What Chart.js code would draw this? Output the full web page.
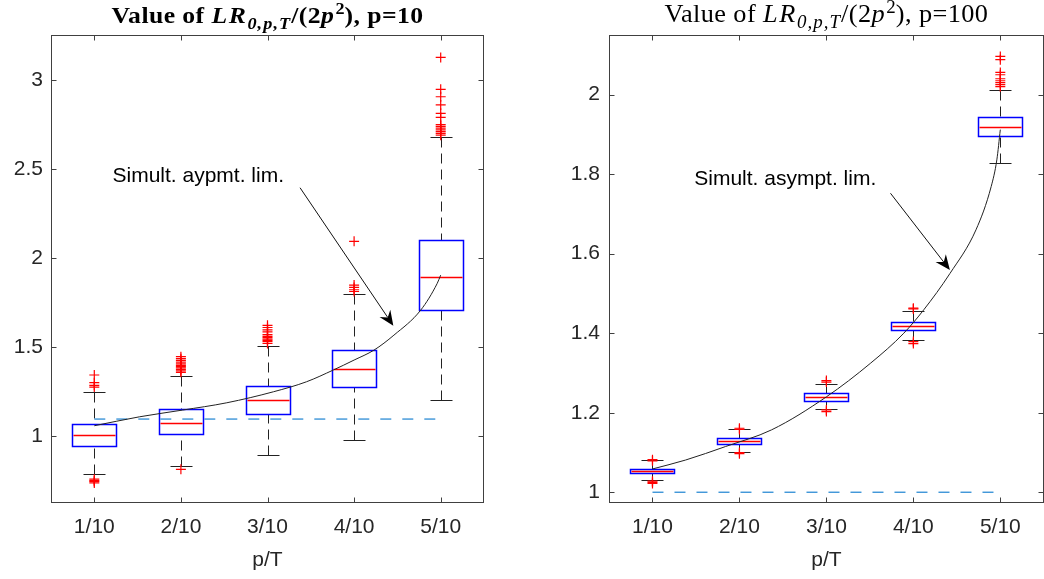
<!DOCTYPE html>
<html>
<head>
<meta charset="utf-8">
<script src="https://cdn.jsdelivr.net/npm/chart.js@4/dist/chart.umd.min.js"></script>
<style>
  html, body { margin: 0; padding: 0; background: #fff; overflow: hidden; width: 1044px; height: 579px; }
  #wrapL { position: absolute; left: 0; top: 0; width: 520px; height: 579px; }
  #wrapR { position: absolute; left: 520px; top: 0; width: 530px; height: 579px; }
</style>
</head>
<body>
<div id="wrapL"><canvas id="cL" width="520" height="579"></canvas></div>
<div id="wrapR"><canvas id="cR" width="530" height="579"></canvas></div>
<script>
const categories = ['1/10', '2/10', '3/10', '4/10', '5/10'];

// ---- p = 10 ----
const p10Median      = [1.004, 1.075, 1.200, 1.378, 1.895];
const p10Q1          = [0.946, 1.010, 1.125, 1.275, 1.706];
const p10Q3          = [1.067, 1.150, 1.281, 1.481, 2.101];
const p10WhiskerLow  = [0.787, 0.833, 0.895, 0.976, 1.200];
const p10WhiskerHigh = [1.245, 1.339, 1.504, 1.798, 2.681];
const p10Outliers = [
  [1.343, 1.300, 1.285, 1.275, 0.758, 0.750, 0.745, 0.737],
  [1.446, 1.435, 1.425, 1.415, 1.405, 1.397, 1.390, 1.383, 1.375, 1.366, 1.358, 0.813],
  [1.622, 1.610, 1.597, 1.585, 1.570, 1.560, 1.553, 1.545, 1.538, 1.530, 1.520],
  [2.094, 1.848, 1.835, 1.822, 1.812],
  [3.127, 2.948, 2.906, 2.860, 2.813, 2.790, 2.750, 2.740, 2.730, 2.720, 2.710, 2.700, 2.690]
];
const p10LimitX = [1, 1.52, 2.02, 2.53, 3.07, 3.45, 3.76, 4.0, 4.23, 4.46, 4.77, 4.96, 5.0];
const p10LimitY = [1.058, 1.108, 1.146, 1.187, 1.249, 1.305, 1.371, 1.427, 1.483, 1.567, 1.708, 1.858, 1.904];
const p10Reference = 1.0955;
const p10YTicks = [1, 1.5, 2, 2.5, 3];
const p10YRange = [0.624, 3.253];

// ---- p = 100 ----
const p100Median      = [1.0536, 1.130, 1.239, 1.418, 1.918];
const p100Q1          = [1.048, 1.122, 1.2305, 1.4075, 1.897];
const p100Q3          = [1.0594, 1.136, 1.249, 1.429, 1.943];
const p100WhiskerLow  = [1.030, 1.102, 1.210, 1.3825, 1.828];
const p100WhiskerHigh = [1.0805, 1.159, 1.272, 1.457, 2.012];
const p100Outliers = [
  [1.082, 1.079, 1.028, 1.025, 1.022],
  [1.161, 1.158, 1.100, 1.097],
  [1.281, 1.277, 1.207, 1.203],
  [1.463, 1.461, 1.379, 1.374],
  [2.096, 2.088, 2.056, 2.050, 2.040, 2.035, 2.030, 2.025, 2.020]
];
const p100LimitX = [1, 1.38, 1.84, 2.37, 3.0, 3.51, 3.89, 4.12, 4.42, 4.72, 4.895, 4.96, 5.0];
const p100LimitY = [1.0586, 1.081, 1.115, 1.157, 1.240, 1.325, 1.400, 1.459, 1.550, 1.660, 1.769, 1.836, 1.912];
const p100Reference = 1.0;
const p100YTicks = [1, 1.2, 1.4, 1.6, 1.8, 2];
const p100YRange = [0.973, 2.150];

const xTicks = categories.map((_, i) => i + 1);
const AXIS_COLOR = '#404040';
const TEXT_COLOR = '#262626';
const SANS = '"Liberation Sans", Arial, sans-serif';
const SERIF = '"Liberation Serif", "Times New Roman", serif';

// Box-and-whisker glyphs drawn through the chart scales
function boxPlugin(stats) {
  return {
    id: 'boxPlot',
    beforeDatasetsDraw(chart) {
      const ctx = chart.ctx, xs = chart.scales.x, ys = chart.scales.y;
      const py = v => Math.round(ys.getPixelForValue(v)) + 0.5;
      const geo = stats.median.map((m, i) => {
        const xc = xs.getPixelForValue(i + 1);
        return {
          X: Math.round(xc) + 0.5,
          hw: Math.round(xs.getPixelForValue(i + 1 + stats.boxWidth / 2) - xc),
          cw: Math.round(xs.getPixelForValue(i + 1 + stats.capWidth / 2) - xc)
        };
      });
      ctx.save();
      ctx.lineWidth = 1;

      // dashed whiskers
      ctx.strokeStyle = '#222222';
      ctx.setLineDash([10, 6]);
      ctx.beginPath();
      geo.forEach((g, i) => {
        ctx.moveTo(g.X, py(stats.hi[i])); ctx.lineTo(g.X, py(stats.q3[i]));
        ctx.moveTo(g.X, py(stats.lo[i])); ctx.lineTo(g.X, py(stats.q1[i]));
      });
      ctx.stroke();
      ctx.setLineDash([]);

      // whisker caps
      ctx.beginPath();
      geo.forEach((g, i) => {
        ctx.moveTo(g.X - g.cw, py(stats.hi[i])); ctx.lineTo(g.X + g.cw, py(stats.hi[i]));
        ctx.moveTo(g.X - g.cw, py(stats.lo[i])); ctx.lineTo(g.X + g.cw, py(stats.lo[i]));
      });
      ctx.stroke();

      // boxes
      ctx.lineWidth = 1.5;
      ctx.strokeStyle = '#0000ff';
      ctx.beginPath();
      geo.forEach((g, i) => {
        const yt = py(stats.q3[i]), yb = py(stats.q1[i]);
        ctx.rect(g.X - g.hw, yt, 2 * g.hw, yb - yt);
      });
      ctx.stroke();

      // medians
      ctx.strokeStyle = '#ff0000';
      ctx.beginPath();
      geo.forEach((g, i) => {
        const y = py(stats.median[i]);
        ctx.moveTo(g.X - g.hw + 1, y); ctx.lineTo(g.X + g.hw - 1, y);
      });
      ctx.stroke();
      ctx.restore();
    }
  };
}

// Axes box with inward tick marks on all four sides
function framePlugin(yTicks) {
  return {
    id: 'frame',
    afterDraw(chart) {
      const ctx = chart.ctx, a = chart.chartArea, xs = chart.scales.x, ys = chart.scales.y;
      const L = Math.round(a.left) + 0.5, R = Math.round(a.right) - 0.5;
      const T = Math.round(a.top) + 0.5, B = Math.round(a.bottom) - 0.5;
      ctx.save();
      ctx.strokeStyle = AXIS_COLOR;
      ctx.lineWidth = 1;
      ctx.strokeRect(L, T, R - L, B - T);
      ctx.beginPath();
      yTicks.forEach(v => {
        const y = Math.round(ys.getPixelForValue(v)) + 0.5;
        ctx.moveTo(L, y); ctx.lineTo(L + 5, y);
        ctx.moveTo(R, y); ctx.lineTo(R - 5, y);
      });
      xTicks.forEach(v => {
        const x = Math.round(xs.getPixelForValue(v)) + 0.5;
        ctx.moveTo(x, B); ctx.lineTo(x, B - 5);
        ctx.moveTo(x, T); ctx.lineTo(x, T + 5);
      });
      ctx.stroke();
      ctx.restore();
    }
  };
}

// Title with math-style italics, subscript and superscript
function titlePlugin(t) {
  return {
    id: 'richTitle',
    afterDraw(chart) {
      const ctx = chart.ctx, a = chart.chartArea;
      const size = t.size, w = t.weight;
      const styleFor = p => {
        if (p.k === 'i') return { font: `italic ${w} ${size}px ${SERIF}`, dy: 0, ls: 1.5 };
        if (p.k === 'sub') return { font: `italic ${w} ${Math.round(size * 0.72)}px ${SERIF}`, dy: size * 0.24, ls: 1 };
        if (p.k === 'sup') return { font: `${w} ${Math.round(size * 0.72)}px ${SERIF}`, dy: -size * 0.38, ls: 0 };
        return { font: `${w} ${size}px ${SERIF}`, dy: 0, ls: 0.4 };
      };
      ctx.save();
      ctx.fillStyle = '#000';
      ctx.textBaseline = 'alphabetic';
      let total = 0;
      const items = t.parts.map(p => {
        const s = styleFor(p);
        ctx.font = s.font;
        ctx.letterSpacing = s.ls + 'px';
        const wd = ctx.measureText(p.t).width;
        total += wd;
        return { p, s, wd };
      });
      const cx = (a.left + a.right) / 2;
      const sx = t.width / total;
      ctx.translate(cx - t.width / 2, t.baseline);
      ctx.scale(sx, 1);
      let x = 0;
      items.forEach(it => {
        ctx.font = it.s.font;
        ctx.letterSpacing = it.s.ls + 'px';
        ctx.fillText(it.p.t, x, it.s.dy);
        x += it.wd;
      });
      ctx.restore();
    }
  };
}

// Text callout with an arrow, positioned in data coordinates
function calloutPlugin(c) {
  return {
    id: 'callout',
    afterDraw(chart) {
      const ctx = chart.ctx, xs = chart.scales.x, ys = chart.scales.y;
      const P = d => [xs.getPixelForValue(d[0]), ys.getPixelForValue(d[1])];
      const [tx, ty] = P(c.textAt), [x0, y0] = P(c.from), [x1, y1] = P(c.to);
      ctx.save();
      ctx.fillStyle = '#000';
      ctx.font = `21px ${SANS}`;
      ctx.textBaseline = 'alphabetic';
      ctx.fillText(c.text, tx, ty);
      const ang = Math.atan2(y1 - y0, x1 - x0);
      const len = 15, half = 6.5, notch = 10;
      const ux = Math.cos(ang), uy = Math.sin(ang), nx = -uy, ny = ux;
      const bx = x1 - ux * notch, by = y1 - uy * notch;
      const cx = x1 - ux * len, cy = y1 - uy * len;
      ctx.strokeStyle = '#111';
      ctx.lineWidth = 1;
      ctx.beginPath(); ctx.moveTo(x0, y0); ctx.lineTo(bx, by); ctx.stroke();
      ctx.beginPath();
      ctx.moveTo(x1, y1);
      ctx.lineTo(cx + nx * half, cy + ny * half);
      ctx.lineTo(bx, by);
      ctx.lineTo(cx - nx * half, cy - ny * half);
      ctx.closePath();
      ctx.fill();
      ctx.restore();
    }
  };
}

function makePanel(canvasId, s) {
  const outlierPoints = [];
  s.outliers.forEach((list, i) => list.forEach(v => outlierPoints.push({ x: i + 1, y: v })));
  const limitPoints = s.limitX.map((x, i) => ({ x, y: s.limitY[i] }));
  const refPoints = [{ x: 1, y: s.reference }, { x: 5, y: s.reference }];

  return new Chart(document.getElementById(canvasId), {
    type: 'scatter',
    data: {
      datasets: [
        { type: 'scatter', data: outlierPoints, pointStyle: 'cross', pointRadius: 5,
          borderColor: '#ff0000', backgroundColor: '#ff0000', borderWidth: 1.2 },
        { type: 'line', data: limitPoints, borderColor: '#222', borderWidth: 1, pointRadius: 0,
          cubicInterpolationMode: 'monotone', fill: false },
        { type: 'line', data: refPoints, borderColor: '#3d95d8', borderWidth: 1.4, pointRadius: 0,
          borderDash: [11, 11], fill: false }
      ]
    },
    options: {
      responsive: false,
      animation: false,
      events: [],
      layout: { padding: { top: 35, left: 0, right: s.padRight, bottom: 0 } },
      scales: {
        x: {
          type: 'linear', min: 0.5, max: 5.5,
          grid: { display: false, drawTicks: false },
          border: { display: false },
          afterBuildTicks: sc => { sc.ticks = xTicks.map(v => ({ value: v })); },
          afterFit: sc => { sc.height = 76; },
          ticks: {
            callback: v => categories[v - 1],
            font: { family: SANS, size: 21 },
            color: TEXT_COLOR, padding: 12, maxRotation: 0, autoSkip: false
          },
          title: {
            display: true, text: 'p/T', color: TEXT_COLOR,
            font: { family: SANS, size: 21 },
            padding: { top: 0, bottom: 6 }
          }
        },
        y: {
          type: 'linear', min: s.yRange[0], max: s.yRange[1],
          grid: { display: false, drawTicks: false },
          border: { display: false },
          afterBuildTicks: sc => { sc.ticks = s.yTicks.map(v => ({ value: v })); },
          afterFit: sc => { sc.width = s.yAxisWidth; },
          ticks: {
            callback: v => String(v),
            font: { family: SANS, size: 21 },
            color: TEXT_COLOR, padding: s.yLabelPad
          }
        }
      },
      plugins: {
        legend: { display: false },
        tooltip: { enabled: false },
        title: { display: false }
      }
    },
    plugins: [
      boxPlugin({ median: s.median, q1: s.q1, q3: s.q3, lo: s.lo, hi: s.hi, boxWidth: 0.5, capWidth: 0.25 }),
      framePlugin(s.yTicks),
      titlePlugin(s.title),
      calloutPlugin(s.callout)
    ]
  });
}

makePanel('cL', {
  median: p10Median, q1: p10Q1, q3: p10Q3, lo: p10WhiskerLow, hi: p10WhiskerHigh,
  outliers: p10Outliers, limitX: p10LimitX, limitY: p10LimitY, reference: p10Reference,
  yTicks: p10YTicks, yRange: p10YRange, yAxisWidth: 51, yLabelPad: 8, padRight: 36,
  title: {
    size: 24, weight: 'bold', baseline: 23, width: 312,
    parts: [
      { t: 'Value of ', k: 'n' }, { t: 'LR', k: 'i' }, { t: '0,p,T', k: 'sub' },
      { t: '/(2', k: 'n' }, { t: 'p', k: 'i' }, { t: '2', k: 'sup' }, { t: '), p=10', k: 'n' }
    ]
  },
  callout: { text: 'Simult. aypmt. lim.', textAt: [1.21, 2.429], from: [3.376, 2.395], to: [4.453, 1.62] }
});

makePanel('cR', {
  median: p100Median, q1: p100Q1, q3: p100Q3, lo: p100WhiskerLow, hi: p100WhiskerHigh,
  outliers: p100Outliers, limitX: p100LimitX, limitY: p100LimitY, reference: p100Reference,
  yTicks: p100YTicks, yRange: p100YRange, yAxisWidth: 89, yLabelPad: 9, padRight: 2,
  title: {
    size: 25, weight: 'normal', baseline: 22, width: 324,
    parts: [
      { t: 'Value of ', k: 'n' }, { t: 'LR', k: 'i' }, { t: '0,p,T', k: 'sub' },
      { t: '/(2', k: 'n' }, { t: 'p', k: 'i' }, { t: '2', k: 'sup' }, { t: '), p=100', k: 'n' }
    ]
  },
  callout: { text: 'Simult. asympt. lim.', textAt: [1.48, 1.773], from: [3.737, 1.752], to: [4.42, 1.559] }
});
</script>
</body>
</html>
